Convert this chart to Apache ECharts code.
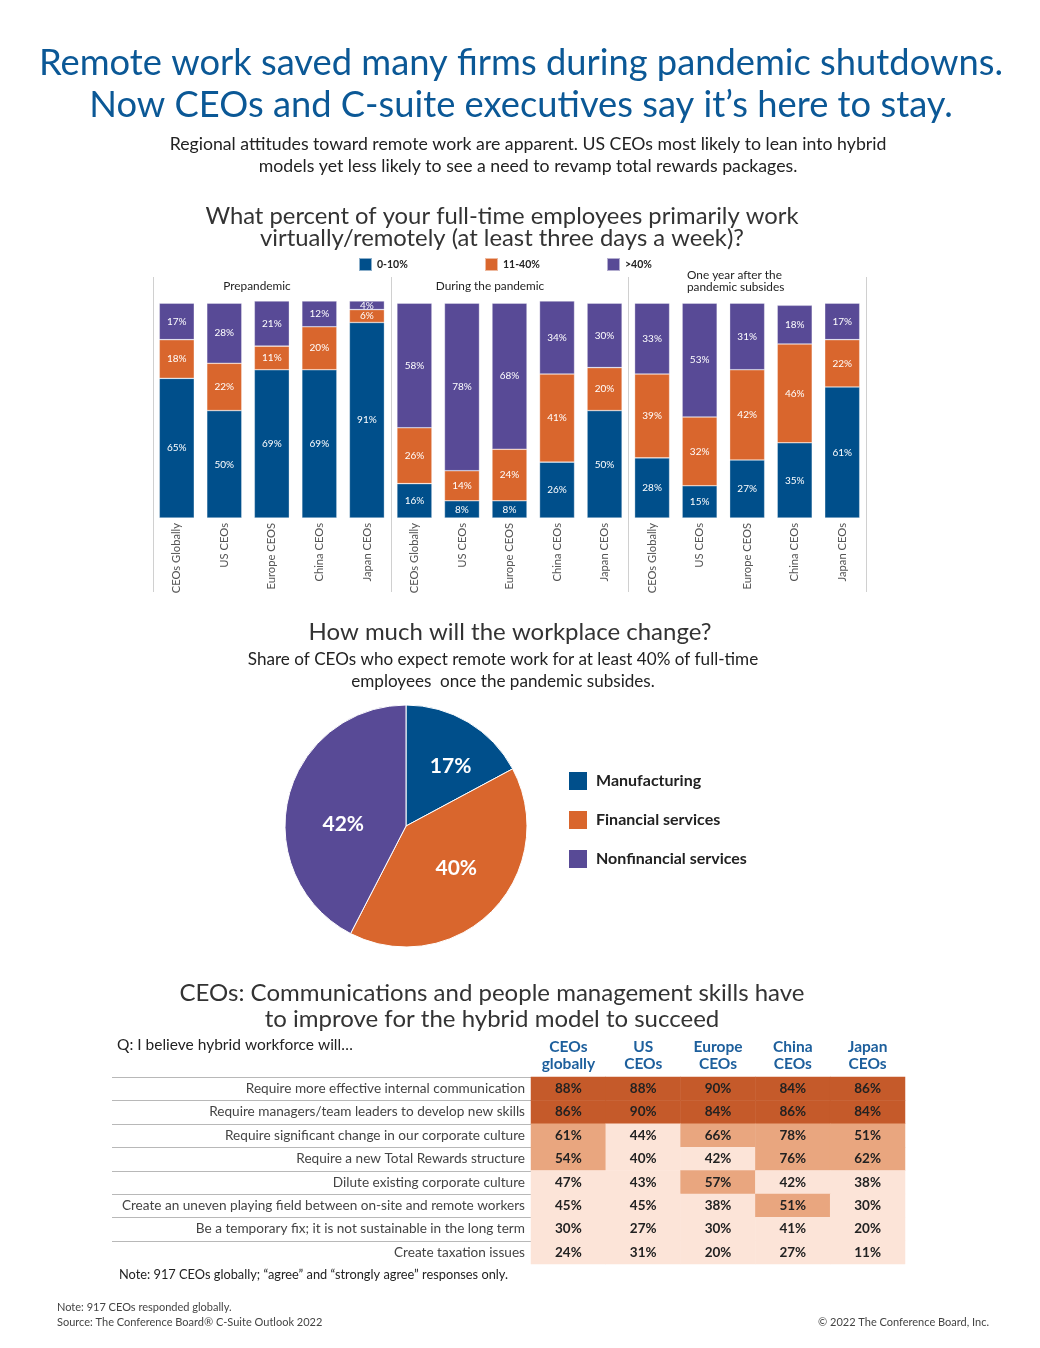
<!DOCTYPE html>
<html><head><meta charset="utf-8">
<script src="https://cdn.jsdelivr.net/npm/echarts@6/dist/echarts.min.js"></script>
<style>html,body{margin:0;padding:0;background:#fff}#c{width:1040px;height:1348px}</style>
</head><body><div id="c"></div><script>
// ---------- DATA ----------
const barCategories = ['CEOs Globally','US CEOs','Europe CEOS','China CEOs','Japan CEOs',
  'CEOs Globally','US CEOs','Europe CEOS','China CEOs','Japan CEOs',
  'CEOs Globally','US CEOs','Europe CEOS','China CEOs','Japan CEOs'];
const barGroups = ['Prepandemic','During the pandemic','One year after the\npandemic subsides'];
const seriesNames = ['0-10%','11-40%','>40%'];
const share0to10 = [65,50,69,69,91, 16,8,8,26,50, 28,15,27,35,61];
const share11to40 = [18,22,11,20,6, 26,14,24,41,20, 39,32,42,46,22];
const shareOver40 = [17,28,21,12,4, 58,78,68,34,30, 33,53,31,18,17];

const pieNames = ['Manufacturing','Financial services','Nonfinancial services'];
const pieValues = [17,40,42];

const tableCols = ['CEOs\nglobally','US\nCEOs','Europe\nCEOs','China\nCEOs','Japan\nCEOs'];
const tableRows = ['Require more effective internal communication',
  'Require managers/team leaders to develop new skills',
  'Require significant change in our corporate culture',
  'Require a new Total Rewards structure',
  'Dilute existing corporate culture',
  'Create an uneven playing field between on-site and remote workers',
  'Be a temporary fix; it is not sustainable in the long term',
  'Create taxation issues'];
const tableValues = [
  [88,88,90,84,86],
  [86,90,84,86,84],
  [61,44,66,78,51],
  [54,40,42,76,62],
  [47,43,57,42,38],
  [45,45,38,51,30],
  [30,27,30,41,20],
  [24,31,20,27,11]];

// ---------- STYLE ----------
const FONT = 'Lato';
const BLUE = '#004f8b', ORANGE = '#d9662d', PURPLE = '#584a96';
const TITLE_BLUE = '#0b5896';
const colors = [BLUE, ORANGE, PURPLE];
const pieLabelOffsets = [[12,-5],[5,-2],[-1,13]];

const chart = echarts.init(document.getElementById('c'), null, {renderer:'canvas'});

const barGrid = {left:153, right:174, top:301, height:217};
const tableGrid = {left:531, right:135, top:1077, height:187};

const heatData = [];
tableValues.forEach((row, r) => row.forEach((v, c) => heatData.push([c, r, v])));

function txt(x, y, text, size, opts) {
  opts = opts || {};
  return {type:'text', x:x, y:y, silent:true, style:{
    text:text, fontFamily:FONT, fontSize:size, fill:opts.color||'#333',
    fontWeight:opts.weight||'normal', align:opts.align||'center',
    verticalAlign:opts.valign||'middle', lineHeight:opts.lh||size*1.2}};
}
function line(x1,y1,x2,y2,color){
  return {type:'line', silent:true, shape:{x1:x1,y1:y1,x2:x2,y2:y2}, style:{stroke:color||'#ccc', lineWidth:1}};
}

const graphics = [
  txt(521, 84, 'Remote work saved many firms during pandemic shutdowns.\nNow CEOs and C-suite executives say it\u2019s here to stay.', 36.3, {color:TITLE_BLUE, lh:42}),
  txt(528, 155, 'Regional attitudes toward remote work are apparent. US CEOs most likely to lean into hybrid\nmodels yet less likely to see a need to revamp total rewards packages.', 17.7, {color:'#222', lh:22}),
  txt(502, 227, 'What percent of your full-time employees primarily work\nvirtually/remotely (at least three days a week)?', 23.8, {color:'#333', lh:22}),
  txt(503, 670, 'Share of CEOs who expect remote work for at least 40% of full-time\nemployees  once the pandemic subsides.', 17.1, {color:'#222', lh:22}),
  txt(510, 632, 'How much will the workplace change?', 24, {color:'#333'}),
  txt(492, 1006, 'CEOs: Communications and people management skills have\nto improve for the hybrid model to succeed', 24, {color:'#333', lh:26}),
  txt(117, 1045, 'Q: I believe hybrid workforce will\u2026', 15.5, {color:'#222', align:'left'}),
  txt(119, 1275, 'Note: 917 CEOs globally; \u201Cagree\u201D and \u201Cstrongly agree\u201D responses only.', 12.8, {color:'#222', align:'left'}),
  txt(57, 1307, 'Note: 917 CEOs responded globally.', 11, {color:'#444', align:'left'}),
  txt(57, 1322, 'Source: The Conference Board\u00AE C-Suite Outlook 2022', 11, {color:'#444', align:'left'}),
  txt(989, 1322, '\u00A9 2022 The Conference Board, Inc.', 11, {color:'#444', align:'right'})
];
// group separators and group headings for the bar chart
const plotW = 1040 - barGrid.left - barGrid.right;
for (let k = 0; k <= 3; k++) {
  const x = Math.round(barGrid.left + k * plotW / 3) + 0.5;
  graphics.push(line(x, 277, x, 592, '#d0d0d0'));
}
const groupHeadPos = [[257,286,'center'],[490,286,'center'],[687,281,'left']];
barGroups.forEach((g, k) => {
  const p = groupHeadPos[k];
  graphics.push(txt(p[0], p[1], g, 11.8, {color:'#222', lh:12, align:p[2]}));
});
// table row separators (label area)
const rowH = tableGrid.height / tableRows.length;
for (let i = 0; i < tableRows.length; i++) {
  const y = Math.round(tableGrid.top + i * rowH) + 0.5;
  graphics.push(line(112, y, tableGrid.left, y, '#b8b8b8'));
}

const barLegendX = [358, 484, 606];
const legends = seriesNames.map((n, i) => ({
  data:[n], left:barLegendX[i], top:257, padding:0, itemWidth:13, itemHeight:13, icon:'rect', itemGap:0,
  selectedMode:false, textStyle:{fontFamily:FONT, fontSize:10.5, fontWeight:'bold', color:'#222', padding:[0,0,0,0]}
}));
legends.push({data:pieNames, orient:'vertical', left:567, top:770, padding:0, itemWidth:20, itemHeight:20, itemGap:17,
  icon:'rect', selectedMode:false,
  textStyle:{fontFamily:FONT, fontSize:16, fontWeight:'bold', color:'#222', padding:[0,0,0,3], lineHeight:20}});

const barSeries = [share0to10, share11to40, shareOver40].map((d, i) => ({
  type:'bar', name:seriesNames[i], stack:'s', data:d, barWidth:35, xAxisIndex:0, yAxisIndex:0,
  itemStyle:{color:colors[i], borderColor:'rgba(255,255,255,0.55)', borderWidth:0.6},
  label:{show:true, position:'inside', formatter:'{c}%', color:'#fff', fontFamily:FONT, fontSize:10},
  emphasis:{disabled:true}
}));

const option = {
  animation:false,
  backgroundColor:'#fff',
  textStyle:{fontFamily:FONT},
  graphic:graphics,
  legend:legends,
  grid:[barGrid, tableGrid],
  xAxis:[
    {type:'category', gridIndex:0, data:barCategories, axisLine:{show:false}, axisTick:{show:false},
     axisLabel:{rotate:90, interval:0, fontFamily:FONT, fontSize:11.2, color:'#555', margin:5}},
    {type:'category', gridIndex:1, data:tableCols, position:'top', axisLine:{show:false}, axisTick:{show:false},
     axisLabel:{interval:0, fontFamily:FONT, fontSize:15.5, fontWeight:'bold', color:'#1d5f9c', lineHeight:17, margin:5}}
  ],
  yAxis:[
    {type:'value', gridIndex:0, min:0, max:101, show:false},
    {type:'category', gridIndex:1, data:tableRows, inverse:true, axisLine:{show:false}, axisTick:{show:false},
     axisLabel:{interval:0, fontFamily:FONT, fontSize:13.6, color:'#444', margin:6}}
  ],
  visualMap:{type:'piecewise', show:false, seriesIndex:4, dimension:2,
    pieces:[{gte:80, color:'#c55a2a'},{gte:50, lt:80, color:'#e9a67f'},{lt:50, color:'#fce4d8'}]},
  series:[
    ...barSeries,
    {type:'pie', center:[406,826], radius:121, startAngle:90, clockwise:true,
     data:pieNames.map((n,i)=>({name:n, value:pieValues[i], itemStyle:{color:colors[i]}, label:{offset:pieLabelOffsets[i]}})),
     itemStyle:{borderColor:'#fff', borderWidth:1},
     label:{show:true, position:'inside', formatter:(p)=>p.value+'%', color:'#fff', fontFamily:FONT, fontSize:21, fontWeight:'bold'},
     labelLine:{show:false}, emphasis:{disabled:true}},
    {type:'heatmap', xAxisIndex:1, yAxisIndex:1, data:heatData,
     label:{show:true, formatter:(p)=>p.value[2]+'%', fontFamily:FONT, fontSize:13.5, fontWeight:'bold', color:'#222'},
     emphasis:{disabled:true}}
  ]
};
chart.setOption(option);
</script></body></html>
